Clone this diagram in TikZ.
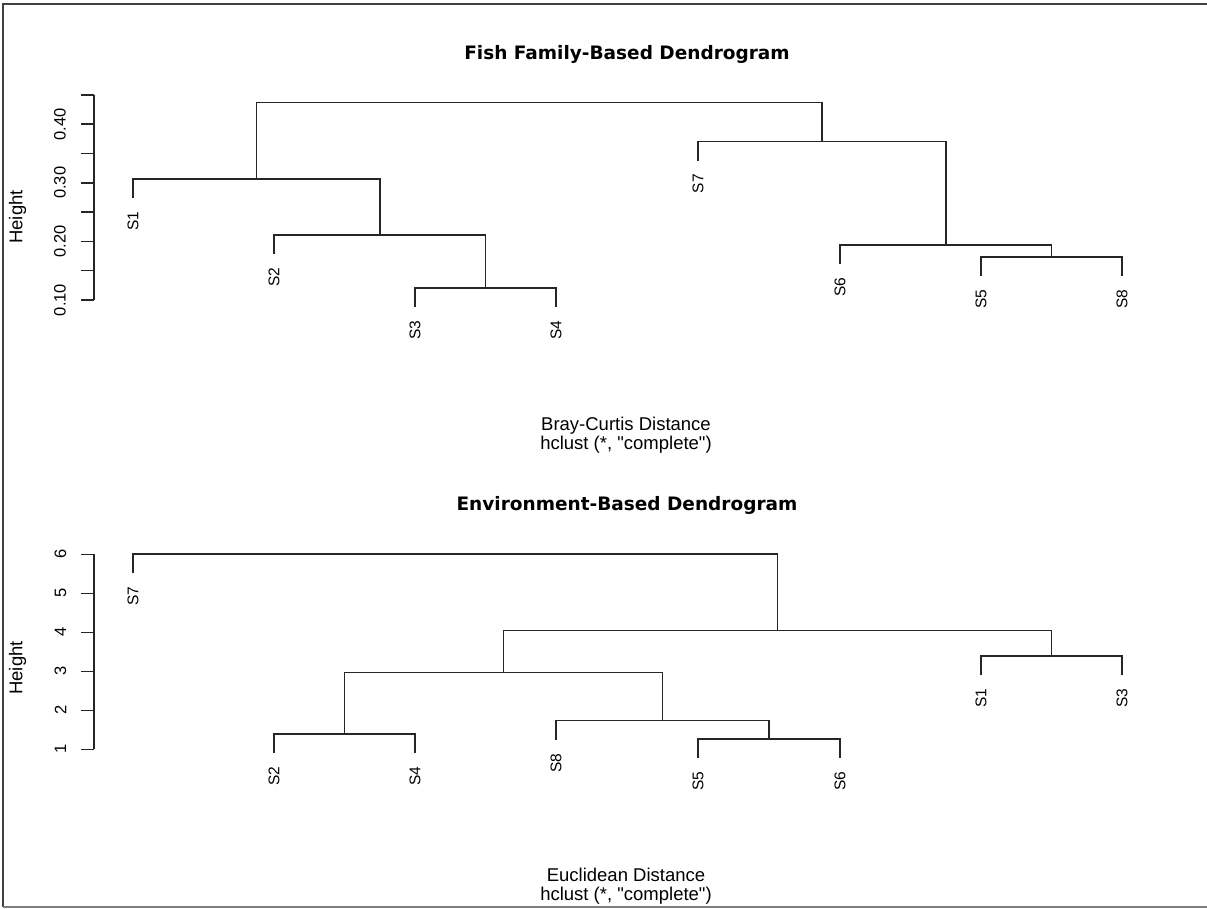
\documentclass[tikz,border=0pt]{standalone}
\usepackage{fontspec}
\setmainfont{Liberation Sans}[Ligatures=TeXOff]
\newfontfamily\titlefont{DejaVu Sans}
\begin{document}
\begin{tikzpicture}[x=1pt,y=-1pt,
  branch/.style={line width=1.5pt, line join=miter, line cap=rect, black!85},
  axisline/.style={line width=1.5pt, black!85},
  leaflab/.style={rotate=90, anchor=east, inner sep=0pt, font=\fontsize{15.5}{18}\selectfont},
  ticklab/.style={rotate=90, anchor=center, inner sep=0pt, font=\fontsize{16.5}{18}\selectfont},
  axlab/.style={inner sep=0pt, font=\fontsize{18.5}{22}\selectfont},
  maintitle/.style={inner sep=0pt, anchor=base, font=\titlefont\bfseries\fontsize{18.5}{22}\selectfont}]
\useasboundingbox (0,0) rectangle (1207,908);
% frame
\draw[line width=2pt, black!75] (1207,3.5) -- (3,3.5) -- (3,906.5);
\draw[line width=2pt, black!50] (3,906.5) -- (1207,906.5);

% ================= TOP PANEL =================
\node[maintitle] (t1) at (627,59) {Fish Family-Based Dendrogram};
\node[axlab, anchor=base] (x1a) at (626,430) {Bray-Curtis Distance};
\node[axlab, anchor=base] (x1b) at (626,449.5) {hclust (*, "complete")};
\node[axlab, rotate=90, anchor=center] (y1) at (17.5,217) {Height};
% axis
\draw[axisline] (94,94.9) -- (94,300);
\foreach \h/\yy in {0.10/300,0.15/270.7,0.20/241.4,0.25/212.1,0.30/182.8,0.35/153.5,0.40/124.2,0.45/94.9}
  \draw[axisline] (81,\yy) -- (94,\yy);
\node[ticklab] (a1t1) at (60,300) {0.10};
\node[ticklab] (a1t2) at (60,241.4) {0.20};
\node[ticklab] (a1t3) at (60,182.8) {0.30};
\node[ticklab] (a1t4) at (60,124.2) {0.40};
% leaves
\coordinate (aS1) at (133,197.5);
\coordinate (aS2) at (274,253.5);
\coordinate (aS3) at (415,306.5);
\coordinate (aS4) at (556,306.5);
\coordinate (aS7) at (698,160);
\coordinate (aS6) at (840,263.5);
\coordinate (aS5) at (981,275.5);
\coordinate (aS8) at (1122,275.5);
% merges
\coordinate (am34) at (485.5,288);
\coordinate (am234) at (379.75,235);
\coordinate (am1234) at (256.4,179);
\coordinate (am58) at (1051.5,257);
\coordinate (am658) at (945.75,245);
\coordinate (am7658) at (821.9,141.5);
\coordinate (aroot) at (539.1,102.3);
\draw[branch] (aS3) |- (am34) -| (aS4);
\draw[branch] (aS2) |- (am234) -| (am34);
\draw[branch] (aS1) |- (am1234) -| (am234);
\draw[branch] (aS5) |- (am58) -| (aS8);
\draw[branch] (aS6) |- (am658) -| (am58);
\draw[branch] (aS7) |- (am7658) -| (am658);
\draw[branch] (am1234) |- (aroot) -| (am7658);
% leaf labels
\foreach \s in {1,2,3,4,5,6,7,8}
  \node[leaflab] (aL\s) at ([yshift=-14pt]aS\s) {S\s};

% ================= BOTTOM PANEL =================
\node[maintitle] (t2) at (627,510) {Environment-Based Dendrogram};
\node[axlab, anchor=base] (x2a) at (626,881) {Euclidean Distance};
\node[axlab, anchor=base] (x2b) at (626,900.5) {hclust (*, "complete")};
\node[axlab, rotate=90, anchor=center] (y2) at (17.5,668) {Height};
% axis
\draw[axisline] (94,554.3) -- (94,749.3);
\foreach \v/\yy in {1/749.3,2/710.3,3/671.3,4/632.3,5/593.3,6/554.3}
  \draw[axisline] (81,\yy) -- (94,\yy);
\foreach \v/\yy in {1/749.3,2/710.3,3/671.3,4/632.3,5/593.3,6/554.3}
  \node[ticklab] (b1t\v) at (60.5,\yy) {\v};
% leaves
\coordinate (bS7) at (133,572.7);
\coordinate (bS2) at (274,752.5);
\coordinate (bS4) at (415,752.5);
\coordinate (bS8) at (556,739.2);
\coordinate (bS5) at (698,757.5);
\coordinate (bS6) at (840,757.5);
\coordinate (bS1) at (981,674.5);
\coordinate (bS3) at (1122,674.5);
% merges
\coordinate (bm56) at (769,739);
\coordinate (bm856) at (662.5,720.7);
\coordinate (bm24) at (344.5,734);
\coordinate (bm24856) at (503.5,672.5);
\coordinate (bm13) at (1051.5,656);
\coordinate (bmbig) at (777.5,630.5);
\coordinate (broot) at (455.25,554.2);
\draw[branch] (bS5) |- (bm56) -| (bS6);
\draw[branch] (bS8) |- (bm856) -| (bm56);
\draw[branch] (bS2) |- (bm24) -| (bS4);
\draw[branch] (bm24) |- (bm24856) -| (bm856);
\draw[branch] (bS1) |- (bm13) -| (bS3);
\draw[branch] (bm24856) |- (bmbig) -| (bm13);
\draw[branch] (bS7) |- (broot) -| (bmbig);
% leaf labels
\foreach \s in {1,2,3,4,5,6,7,8}
  \node[leaflab] (bL\s) at ([yshift=-14pt]bS\s) {S\s};
\end{tikzpicture}
\end{document}
